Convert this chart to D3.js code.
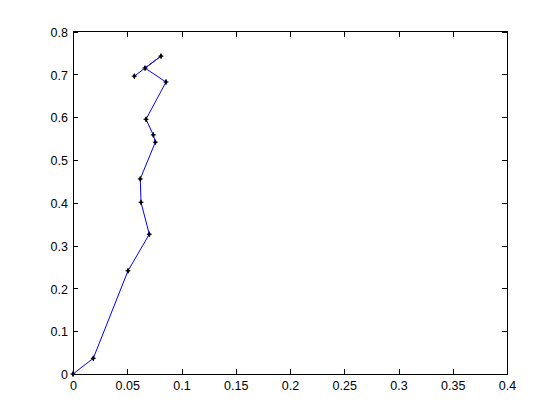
<!DOCTYPE html>
<html>
<head>
<meta charset="utf-8">
<script src="https://cdn.jsdelivr.net/npm/d3@7"></script>
<style>
body { margin: 0; background: #fff; }
text { font-family: "Liberation Sans", Arial, sans-serif; font-size: 12.5px; }
</style>
</head>
<body>
<script>
var w = 560;
var h = 420;

// path values
var xValues = [0, 0.0187, 0.0507, 0.0703, 0.0627, 0.0620, 0.0759, 0.0740, 0.0673, 0.0857, 0.0664, 0.0811, 0.0565];
var yValues = [0, 0.0367, 0.241, 0.3264, 0.401, 0.4557, 0.5415, 0.5585, 0.595, 0.682, 0.7145, 0.7425, 0.6957];

var xTicks = [0, 0.05, 0.1, 0.15, 0.2, 0.25, 0.3, 0.35, 0.4];
var yTicks = [0, 0.1, 0.2, 0.3, 0.4, 0.5, 0.6, 0.7, 0.8];

// plot box (note: "top" is taken by window.top)
var boxL = 73, boxR = 507, boxT = 31.5, boxB = 374;

var xScale = d3.scaleLinear()
                .domain([0, 0.4])
                .range([boxL, boxR]);

var yScale = d3.scaleLinear()
                .domain([0, 0.8])
                .range([boxB, boxT]);

var svg = d3.select("body")
            .append("svg")
            .attr("width", w)
            .attr("height", h);

svg.append("rect")
    .attr("x", boxL)
    .attr("y", boxT)
    .attr("width", boxR - boxL)
    .attr("height", boxB - boxT)
    .attr("fill", "white")
    .attr("stroke", "black")
    .attr("stroke-width", 1)
    .attr("shape-rendering", "crispEdges");

var fmt = function(d){ return d3.format("~g")(d); };

// bottom and top axes, ticks pointing inward
svg.append("g")
    .attr("transform", "translate(0," + boxB + ")")
    .call(d3.axisBottom(xScale).tickValues(xTicks).tickFormat(fmt).tickSizeInner(-5).tickSizeOuter(0).tickPadding(7));

svg.append("g")
    .attr("transform", "translate(0," + boxT + ")")
    .call(d3.axisTop(xScale).tickValues(xTicks).tickFormat("").tickSizeInner(-5).tickSizeOuter(0));

svg.append("g")
    .attr("class", "yaxis")
    .attr("transform", "translate(" + boxL + ",0)")
    .call(d3.axisLeft(yScale).tickValues(yTicks).tickFormat(fmt).tickSizeInner(-5).tickSizeOuter(0).tickPadding(5));

svg.append("g")
    .attr("transform", "translate(" + boxR + ",0)")
    .call(d3.axisRight(yScale).tickValues(yTicks).tickFormat("").tickSizeInner(-5).tickSizeOuter(0));

svg.selectAll(".domain").remove();
svg.selectAll(".tick line").attr("shape-rendering", "crispEdges");
svg.selectAll(".tick text").attr("fill", "black").style("font-size", "12.5px");
svg.selectAll(".yaxis .tick text").attr("dy", "0.38em");

var pts = d3.range(xValues.length).map(function(i){
    return [xValues[i], yValues[i]];
});

var line = d3.line()
    .x(function(d){ return xScale(d[0]); })
    .y(function(d){ return yScale(d[1]); });

svg.append("path")
    .datum(pts)
    .attr("d", line)
    .attr("fill", "none")
    .attr("stroke", "#0000ff")
    .attr("stroke-width", 1);

var marks = svg.selectAll(".mark")
    .data(pts)
    .enter()
    .append("g")
    .attr("transform", function(d){
        return "translate(" + xScale(d[0]) + "," + yScale(d[1]) + ")";
    });

marks.append("path")
    .attr("d", d3.symbol().type(d3.symbolDiamond).size(10))
    .attr("fill", "black");

marks.append("path")
    .attr("d", "M-2.5,0H2.5M0,-2.5V2.5")
    .attr("stroke", "black")
    .attr("stroke-width", 1);
</script>
</body>
</html>
